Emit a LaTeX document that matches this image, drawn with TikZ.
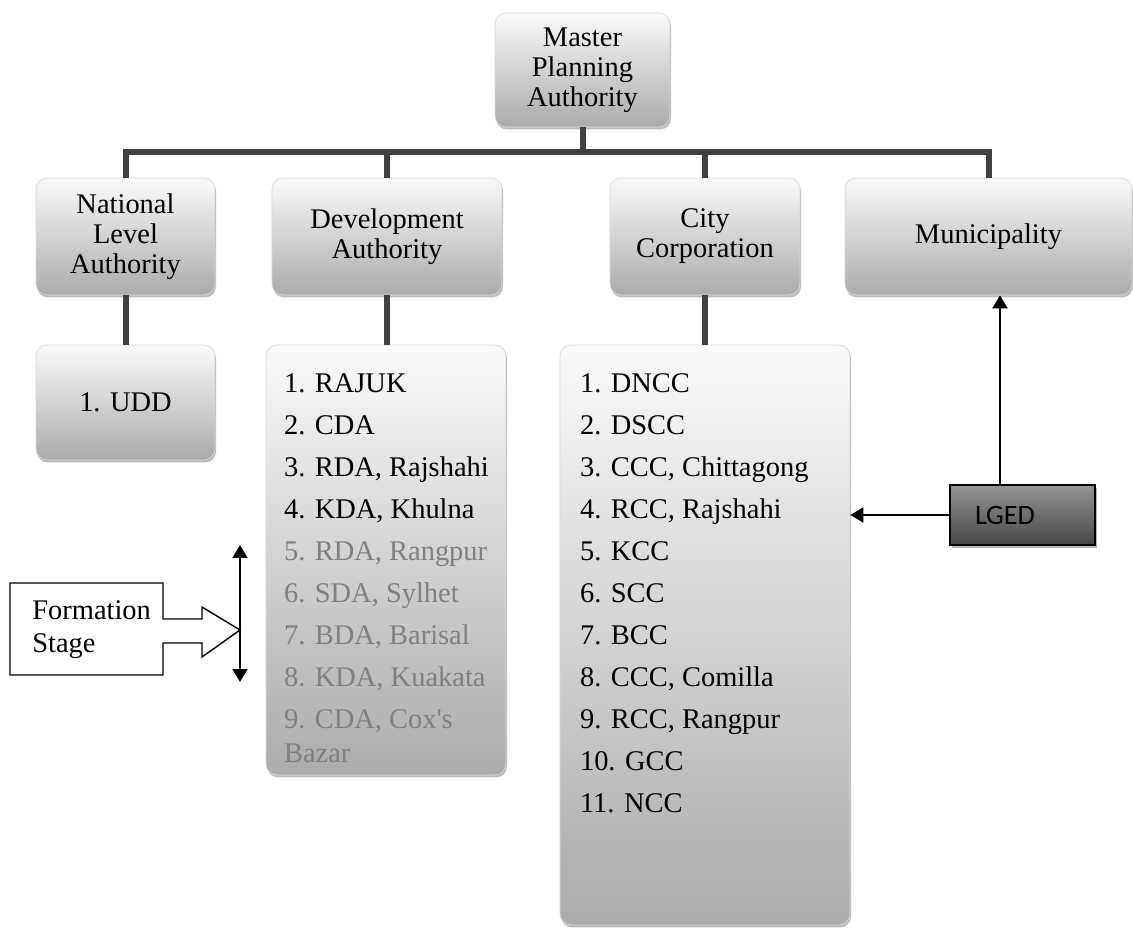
\documentclass[tikz,border=0pt]{standalone}
\usepackage{fontspec}
\setmainfont{Liberation Serif}
\newfontfamily\lgedfont{Carlito}
\usetikzlibrary{arrows.meta,calc,shadows}
\definecolor{BarClr}{RGB}{64,64,64}
\definecolor{FadeClr}{RGB}{128,128,128}

\tikzset{
  box/.style={rectangle,rounded corners=0.22cm,draw=black!15,
    top color=black!2,bottom color=black!33,inner sep=0pt,
    drop shadow={shadow xshift=0.6pt,shadow yshift=-1.4pt,fill=black!45,opacity=0.6},
    font=\fontsize{16.2}{17}\selectfont},
  hdr/.style={box,align=center},
  lgedbox/.style={rectangle,draw=black,line width=0.8pt,top color=black!42,bottom color=black!72,
    drop shadow={shadow xshift=1pt,shadow yshift=-1.5pt,fill=black!50,opacity=0.6},
    inner xsep=0.5cm,text width=1.9cm,align=left,font=\lgedfont\fontsize{16}{18}\selectfont},
  bar/.style={line width=0.12cm,color=BarClr},
  arr/.style={line width=0.04cm,-{Triangle[length=0.26cm,width=0.3cm]}},
}

\begin{document}
\begin{tikzpicture}[x=0.02cm,y=-0.02cm]
\useasboundingbox (0,0) rectangle (1133,929);

% Top level.
\node[hdr,minimum width=3.5cm,minimum height=2.28cm] (master) at (582.5,70) {Master\\Planning\\Authority};

% Second level.
\node[hdr,minimum width=3.58cm,minimum height=2.34cm] (nla) at (125.5,236.5) {National\\Level\\Authority};
\node[hdr,minimum width=4.6cm,minimum height=2.34cm] (devauth) at (387,236.5) {Development\\Authority};
\node[hdr,minimum width=3.8cm,minimum height=2.34cm] (citycorp) at (705,236.5) {City\\Corporation};
\node[hdr,minimum width=5.74cm,minimum height=2.34cm] (muni) at (988.5,236.5) {Municipality};

% Third level.
\node[hdr,minimum width=3.58cm,minimum height=2.3cm] (udd) at (125.5,402.5) {1. UDD};
\node[box] (devlist) at (386,560) {\parbox[c][8.6cm][t]{4.8cm}{\raggedright\leftskip=0.36cm
  \fontsize{16.2}{23.9}\selectfont\vspace*{0.57cm}%
  1. RAJUK\\
  2. CDA\\
  3. RDA, Rajshahi\\
  4. KDA, Khulna\\
  {\color{FadeClr}5. RDA, Rangpur}\\
  {\color{FadeClr}6. SDA, Sylhet}\\
  {\color{FadeClr}7. BDA, Barisal}\\
  {\color{FadeClr}8. KDA, Kuakata}\\
  {\color{FadeClr}9. CDA, Cox\textquotesingle s}\\[-4.6pt]
  {\color{FadeClr}Bazar}}};
\node[box] (citylist) at (705,635) {\parbox[c][11.6cm][t]{5.8cm}{\raggedright\leftskip=0.4cm
  \fontsize{16.2}{23.9}\selectfont\vspace*{0.57cm}%
  1. DNCC\\
  2. DSCC\\
  3. CCC, Chittagong\\
  4. RCC, Rajshahi\\
  5. KCC\\
  6. SCC\\
  7. BCC\\
  8. CCC, Comilla\\
  9. RCC, Rangpur\\
  10. GCC\\
  11. NCC}};

% Connectors of the tree.
\foreach \n in {nla,devauth,citycorp,muni}
  \draw[bar] (master.south) -- ++(0,25) -| (\n.north);
\draw[bar] (nla) -- (udd);
\draw[bar] (devauth) -- (devauth |- devlist.north);
\draw[bar] (citycorp) -- (citylist);

% Formation stage callout.
\node[anchor=west,align=left,inner sep=0pt,font=\fontsize{16.2}{18.8}\selectfont] (formtxt) at (32,630) {Formation\\Stage};
\draw[line width=0.8pt,line join=miter] (10,583) -- (163,583) -- (163,619) -- (202,619) -- (202,607)
  -- (240,630) -- (202,657) -- (202,643) -- (163,643) -- (163,675) -- (10,675) -- cycle;
\coordinate (stagetop) at (240,545);
\coordinate (stagebot) at (240,682);
\draw[line width=0.04cm,{Triangle[length=0.26cm,width=0.3cm]}-{Triangle[length=0.26cm,width=0.3cm]}] (stagetop) -- (stagebot);

% LGED and its arrows.
\node[lgedbox,minimum height=1.2cm] (lged) at (1022.5,515) {LGED};
\coordinate (lgedtop) at ($(lged.north)+(-22.5,0)$);
\draw[arr] (lgedtop) -- (lgedtop |- muni.south);
\draw[arr] (lged.west) -- (lged.west -| citylist.east);

\end{tikzpicture}
\end{document}
